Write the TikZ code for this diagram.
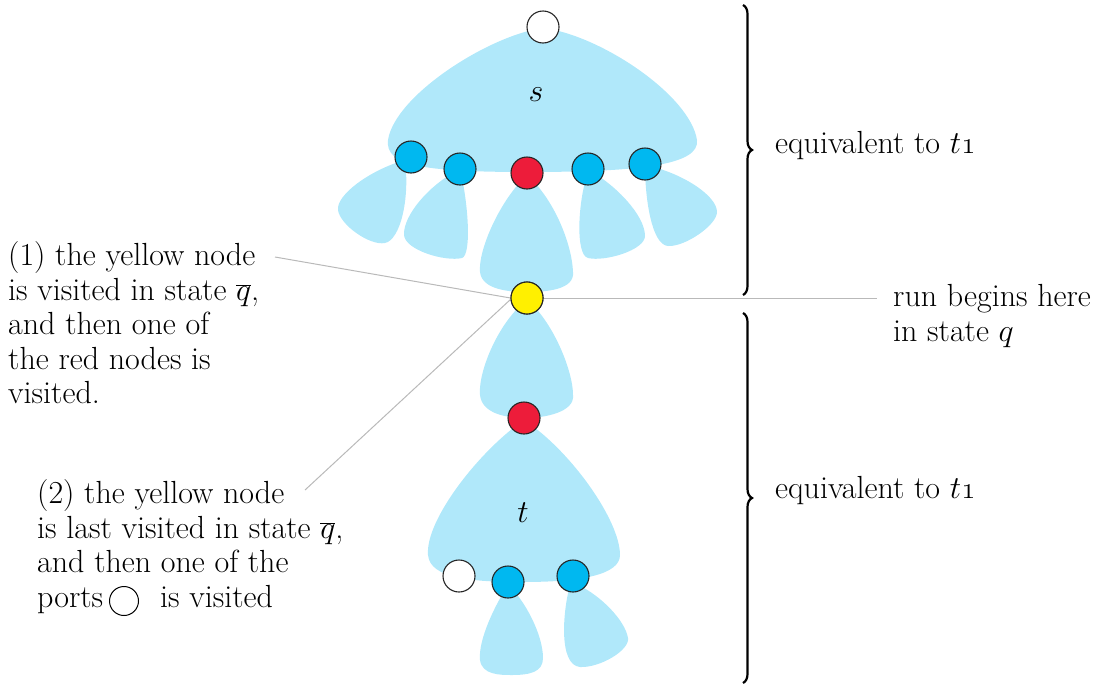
\RequirePackage{fix-cm}
\documentclass[tikz,border=0pt]{standalone}
\usetikzlibrary{decorations.pathreplacing}
\definecolor{blob}{RGB}{176,232,250}
\definecolor{port}{RGB}{0,184,240}
\definecolor{redn}{RGB}{237,28,58}
\definecolor{yel}{RGB}{255,240,0}
\definecolor{leader}{RGB}{185,185,185}
\newcommand{\tone}{$t$\oldstylenums{1}}
\begin{document}
\begin{tikzpicture}[x=1pt,y=-1pt,
  blobfill/.style={fill=blob,draw=none},
  dot/.style={circle,draw=black!85,line width=1.1pt,minimum size=32pt,inner sep=0pt},
  bluedot/.style={dot,fill=port},
  reddot/.style={dot,fill=redn},
  yeldot/.style={dot,fill=yel},
  whitedot/.style={dot,fill=white},
  legenddot/.style={circle,draw=black,line width=1pt,minimum size=29pt,inner sep=0pt},
  leaderline/.style={draw=leader,line width=1pt},
  lbl/.style={font=\fontsize{32}{34.5}\selectfont,inner sep=0pt,align=left},
  bracestyle/.style={decorate,decoration={brace,amplitude=9pt},line width=2.2pt}
]
\useasboundingbox (0,0) rectangle (1115,683);

% ---- blobs of s
\fill[blobfill] (543,28) .. controls (490,35) and (395,95) .. (388,140)
  .. controls (385,165) and (420,172) .. (527,172)
  .. controls (640,172) and (700,165) .. (697,140)
  .. controls (690,95) and (600,35) .. (543,28) -- cycle;
\fill[blobfill] (405,160) .. controls (410,200) and (400,240) .. (385,243)
  .. controls (370,246) and (340,225) .. (338,210)
  .. controls (336,195) and (370,170) .. (405,160) -- cycle;
\fill[blobfill] (460,170) .. controls (468,200) and (472,255) .. (462,258)
  .. controls (445,262) and (405,250) .. (404,235)
  .. controls (403,215) and (430,185) .. (455,172) -- cycle;
\fill[blobfill] (527,175) .. controls (500,200) and (478,250) .. (480,272)
  .. controls (482,290) and (510,292) .. (527,292)
  .. controls (545,292) and (575,290) .. (573,272)
  .. controls (572,245) and (555,200) .. (527,175) -- cycle;
\fill[blobfill] (588,172) .. controls (578,200) and (575,255) .. (588,258)
  .. controls (605,262) and (645,250) .. (645,236)
  .. controls (645,215) and (615,185) .. (592,172) -- cycle;
\fill[blobfill] (645,165) .. controls (645,200) and (652,245) .. (668,246)
  .. controls (685,247) and (717,225) .. (717,212)
  .. controls (717,195) and (680,172) .. (645,165) -- cycle;

% ---- blobs of t
\fill[blobfill] (527,300) .. controls (500,320) and (478,370) .. (480,395)
  .. controls (482,415) and (510,418) .. (525,418)
  .. controls (545,418) and (575,412) .. (573,395)
  .. controls (573,370) and (552,320) .. (527,300) -- cycle;
\fill[blobfill] (524,420) .. controls (480,450) and (425,520) .. (428,555)
  .. controls (430,578) and (470,582) .. (523,582)
  .. controls (580,582) and (620,575) .. (620,555)
  .. controls (620,520) and (570,450) .. (524,420) -- cycle;
\fill[blobfill] (508,585) .. controls (495,605) and (478,640) .. (480,660)
  .. controls (482,675) and (500,675) .. (512,675)
  .. controls (530,675) and (543,672) .. (543,658)
  .. controls (543,635) and (525,600) .. (508,585) -- cycle;
\fill[blobfill] (570,585) .. controls (563,610) and (558,665) .. (580,667)
  .. controls (600,668) and (630,650) .. (628,638)
  .. controls (625,620) and (600,595) .. (578,585) -- cycle;

% ---- nodes
\node[whitedot] (top) at (543,27) {};
\node[bluedot] (b1) at (411,157) {};
\node[bluedot] (b2) at (460,169) {};
\node[reddot] (r1) at (527,173) {};
\node[bluedot] (b3) at (588,169) {};
\node[bluedot] (b4) at (645,164) {};
\node[reddot] (r2) at (524,418) {};
\node[whitedot] (w2) at (459,576) {};
\node[bluedot] (b5) at (508,582) {};
\node[bluedot] (b6) at (573,576) {};

% ---- leaders
\coordinate (l1) at (275,257);
\coordinate (l2) at (305,490);
\coordinate (l3) at (877,298);
\node[yeldot] (y) at (527,298) {};
\draw[leaderline] (l1) -- (y.180);
\draw[leaderline] (l2) -- (y.185);
\draw[leaderline] (y.east) -- (l3);
\node[yeldot] at (y) {};

% ---- labels
\node[lbl] (s) at (536,95) {$s$};
\node[lbl] (t) at (523,513) {$t$};

\node[lbl,anchor=north west] (txt1) at (8,241.5)
  {(1) the yellow node\\ is visited in state $\overline{q}$,\\ and then one of\\ the red nodes is\\ visited.};
\node[lbl,anchor=north west] (txt2) at (37,479.5)
  {(2) the yellow node\\ is last visited in state $\overline{q}$,\\ and then one of the\\ ports\hspace{57pt}is visited};
\node[legenddot] (portsym) at (124,601) {};
\node[lbl,anchor=north west] (txt3) at (893,284.5)
  {run begins here\\ in state $q$};

\draw[bracestyle] (743,5) -- (743,295);
\draw[bracestyle] (743,313) -- (743,683);
\node[lbl,anchor=west] (eq1) at (775,146) {equivalent to \tone};
\node[lbl,anchor=west] (eq2) at (775,491) {equivalent to \tone};
\end{tikzpicture}
\end{document}
